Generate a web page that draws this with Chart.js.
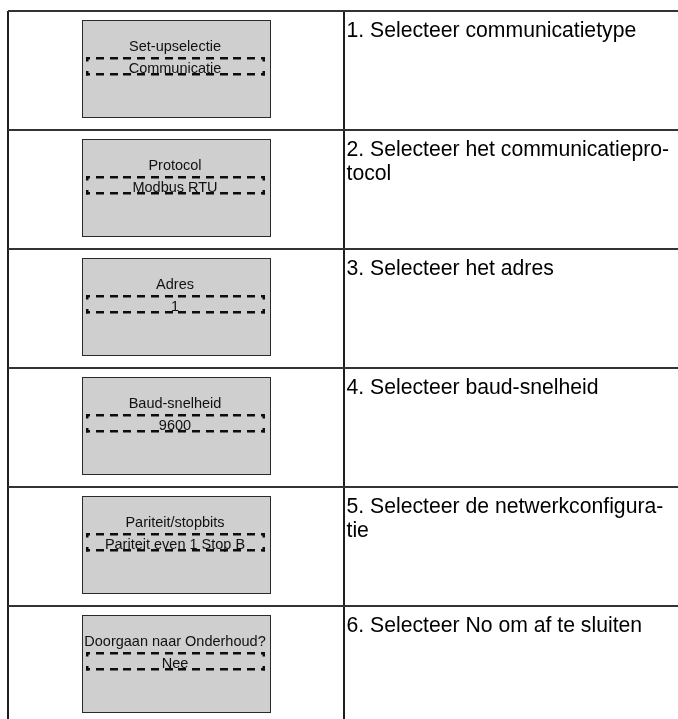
<!DOCTYPE html>
<html>
<head>
<meta charset="utf-8">
<script src="https://cdn.jsdelivr.net/npm/chart.js@4.4.1/dist/chart.umd.min.js"></script>
<style>
html,body{margin:0;padding:0;background:#fff;}
canvas{display:block;}
</style>
</head>
<body>
<canvas id="c" width="678" height="719"></canvas>
<script>
// ---- content ----
const steps = [
  ['1. Selecteer communicatietype'],
  ['2. Selecteer het communicatiepro-', 'tocol'],
  ['3. Selecteer het adres'],
  ['4. Selecteer baud-snelheid'],
  ['5. Selecteer de netwerkconfigura-', 'tie'],
  ['6. Selecteer No om af te sluiten']
];
const screenTitles = ['Set-upselectie', 'Protocol', 'Adres', 'Baud-snelheid', 'Pariteit/stopbits', 'Doorgaan naar Onderhoud?'];
const screenValues = ['Communicatie', 'Modbus RTU', '1', '9600', 'Pariteit even 1 Stop B', 'Nee'];
const rowIndex = [0, 1, 2, 3, 4, 5];

// ---- layout ----
const PAD_LEFT = 8, PAD_TOP = 11;
const ROW_PX = 119, COL_PX = 336;
const CW = 678, CH = 719;
const FONT = '"Liberation Sans", Arial, Helvetica, sans-serif';

function makeScreen(title, value) {
  const W = 190, H = 101;
  const c = document.createElement('canvas');
  c.width = W; c.height = H;
  const g = c.getContext('2d');
  g.fillStyle = '#cfcfcf';
  g.fillRect(1, 0, 189, 98);
  g.strokeStyle = '#2a2a2a';
  g.lineWidth = 1;
  g.strokeRect(1.5, 0.5, 188, 97);

  // dashed selection frame
  const x0 = 5, x1 = 184, yt = 37, yb = 53, t = 2.5;
  g.fillStyle = '#0d0d0d';
  g.fillRect(x0, yt, 4, t); g.fillRect(x0, yt, t, 4.5);
  g.fillRect(x1 - 4, yt, 4, t); g.fillRect(x1 - t, yt, t, 4.5);
  g.fillRect(x0, yb, 4, t); g.fillRect(x0, yb - 2, t, 4.5);
  g.fillRect(x1 - 4, yb, 4, t); g.fillRect(x1 - t, yb - 2, t, 4.5);
  const s0 = x0 + 10, s1 = x1 - 10, dash = 8;
  const n = Math.round((s1 - s0 + 6) / 14);
  const step = (s1 - s0 - dash) / (n - 1);
  for (let k = 0; k < n; k++) {
    const dx = Math.round(s0 + k * step);
    g.fillRect(dx, yt, dash, t);
    g.fillRect(dx, yb, dash, t);
  }

  g.fillStyle = '#111';
  g.font = '14.5px ' + FONT;
  g.textAlign = 'center';
  g.textBaseline = 'alphabetic';
  g.fillText(title, 94, 30.5);
  g.fillText(value, 94, 53);
  return c;
}

const screens = rowIndex.map(i => makeScreen(screenTitles[i], screenValues[i]));

const stepText = {
  id: 'stepText',
  afterDraw(chart) {
    const { ctx, scales: { x, y } } = chart;
    ctx.save();
    ctx.font = '21.2px ' + FONT;
    ctx.fillStyle = '#000';
    ctx.textAlign = 'left';
    ctx.textBaseline = 'alphabetic';
    steps.forEach((lines, i) => {
      const top = y.getPixelForValue(i - 0.5);
      const left = x.getPixelForValue(0.5);
      lines.forEach((txt, j) => ctx.fillText(txt, left + 2.5, top + 25.5 + j * 24));
    });
    ctx.restore();
  }
};

const bg = {
  id: 'bg',
  beforeDraw(chart) {
    const ctx = chart.ctx;
    ctx.save();
    ctx.fillStyle = '#fff';
    ctx.fillRect(0, 0, chart.width, chart.height);
    ctx.restore();
  }
};

new Chart(document.getElementById('c'), {
  type: 'scatter',
  data: {
    datasets: [{
      data: rowIndex.map(i => ({ x: 0, y: i })),
      pointStyle: screens,
      pointRadius: 50,
      pointHoverRadius: 50,
      clip: false
    }]
  },
  options: {
    responsive: false,
    animation: false,
    events: [],
    devicePixelRatio: 1,
    layout: { autoPadding: false, padding: { left: PAD_LEFT, top: PAD_TOP, right: 0, bottom: 0 } },
    plugins: { legend: { display: false }, tooltip: { enabled: false } },
    scales: {
      x: {
        type: 'linear',
        min: -0.5,
        max: -0.5 + (CW - PAD_LEFT) / COL_PX,
        afterBuildTicks: s => { s.ticks = [{ value: -0.5 }, { value: 0.5 }]; },
        ticks: { display: false },
        border: { display: false },
        grid: { drawTicks: false, color: '#1e1e1e', lineWidth: 2 }
      },
      y: {
        type: 'linear',
        reverse: true,
        min: -0.5,
        max: -0.5 + (CH - PAD_TOP) / ROW_PX,
        afterBuildTicks: s => { s.ticks = rowIndex.map(i => ({ value: i - 0.5 })); },
        ticks: { display: false },
        border: { display: false },
        grid: { drawTicks: false, color: '#333', lineWidth: 2 }
      }
    }
  },
  plugins: [bg, stepText]
});
</script>
</body>
</html>
